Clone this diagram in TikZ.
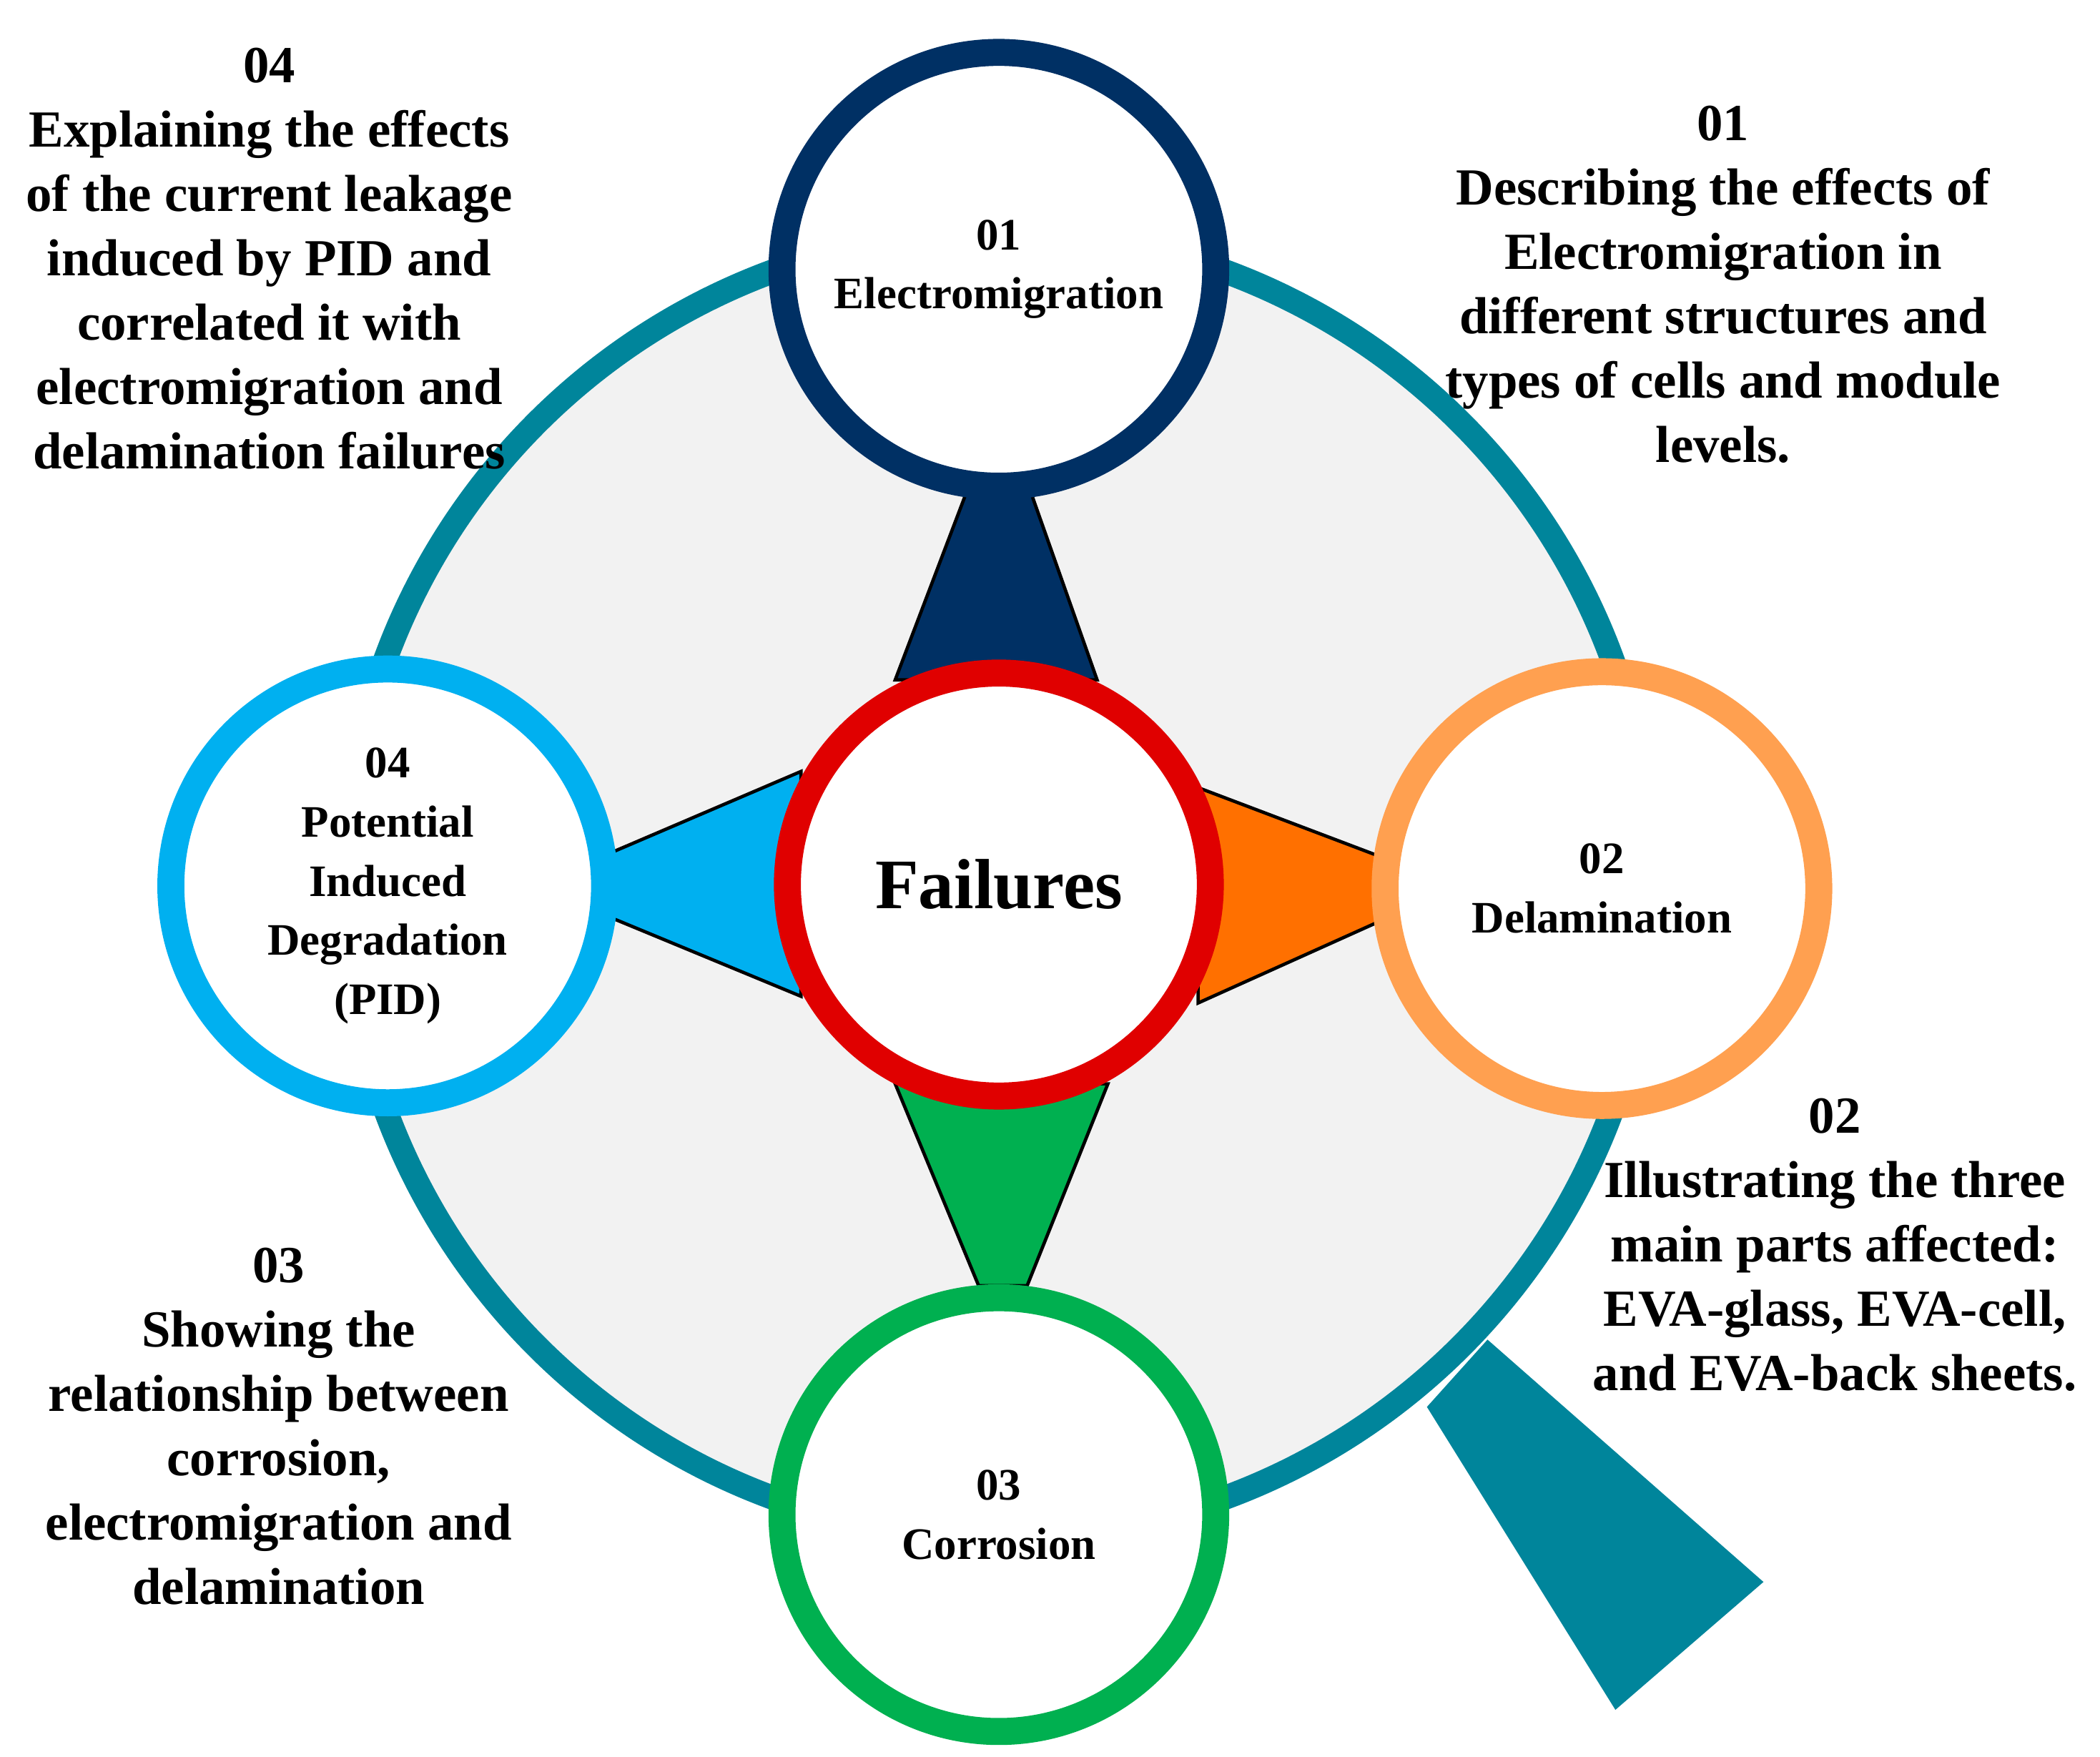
\documentclass[tikz,border=0pt]{standalone}
\usepackage{fontspec}
\setmainfont{Liberation Serif}
\definecolor{teal1}{RGB}{0,133,155}
\definecolor{navy1}{RGB}{0,48,100}
\definecolor{org1}{RGB}{255,160,80}
\definecolor{org2}{RGB}{255,112,0}
\definecolor{grn1}{RGB}{0,176,80}
\definecolor{blu1}{RGB}{0,176,240}
\definecolor{red1}{RGB}{224,0,0}
\definecolor{bg1}{RGB}{242,242,242}
\tikzset{
 ring/.style={circle,line width=5.7pt,fill=white,minimum size=3.22cm,inner sep=0pt,align=center,font=\bfseries\fontsize{9.5}{12.5}\selectfont},
 side/.style={align=center,font=\bfseries\fontsize{11}{13.6}\selectfont,inner sep=0pt},
 conn/.style={draw=black,line width=0.7pt}
}
\begin{document}
\begin{tikzpicture}[x=0.01cm,y=-0.01cm]
\useasboundingbox (0,0) rectangle (1560,1305);
% handle
\fill[teal1] (1105,995) -- (1310,1175) -- (1200,1270) -- (1060,1045) -- cycle;
% big ring
\draw[teal1,fill=bg1,line width=5.1pt] (742,657) circle (4.85cm);
% connectors
\filldraw[conn,fill=navy1] (722,355) -- (762,355) -- (815,505) -- (665,505) -- cycle;
\filldraw[conn,fill=org2] (890,585) -- (1030,638) -- (1030,682) -- (890,745) -- cycle;
\filldraw[conn,fill=blu1] (595,573) -- (450,635) -- (450,680) -- (595,740) -- cycle;
\filldraw[conn,fill=grn1] (665,805) -- (823,805) -- (763,955) -- (727,955) -- cycle;
% circles
\node[ring,draw=red1,minimum size=3.14cm] (f) at (742,657) {\fontsize{15}{18}\selectfont Failures};
\node[ring,draw=navy1] (em) at (742,200) {01\\Electromigration};
\node[ring,draw=org1] (de) at (1190,660) {02\\Delamination};
\node[ring,draw=grn1] (co) at (742,1125) {03\\Corrosion};
\node[ring,draw=blu1] (pi) at (288,658) {04\\Potential\\Induced\\Degradation\\(PID)};
% side texts
\node[side,anchor=north] (t4) at (200,35) {04\\Explaining the effects\\of the current leakage\\induced by PID and\\correlated it with\\electromigration and\\delamination failures};
\node[side,anchor=north] (t1) at (1280,78) {01\\Describing the effects of\\Electromigration in\\different structures and\\types of cells and module\\levels.};
\node[side,anchor=north] (t2) at (1363,815) {02\\Illustrating the three\\main parts affected:\\EVA-glass, EVA-cell,\\and EVA-back sheets.};
\node[side,anchor=north] (t3) at (207,926) {03\\Showing the\\relationship between\\corrosion,\\electromigration and\\delamination};
\end{tikzpicture}
\end{document}
